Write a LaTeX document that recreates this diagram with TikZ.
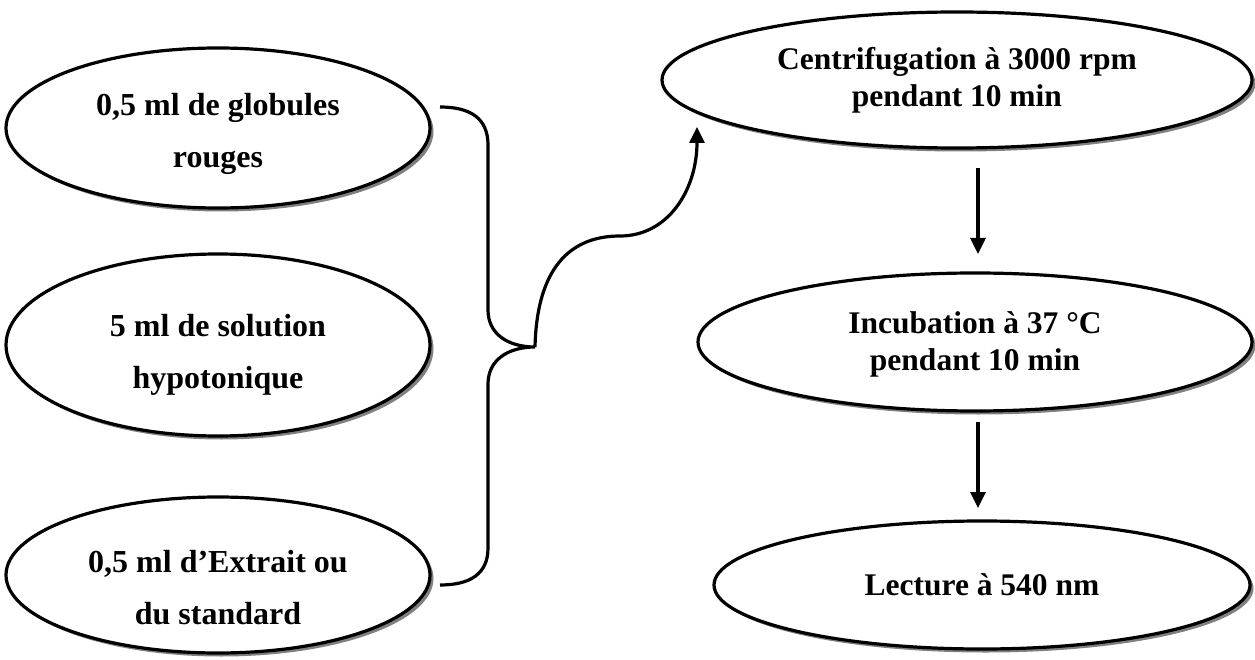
\documentclass[tikz,border=0pt]{standalone}
\usepackage{fontspec}
\setmainfont{Liberation Serif}
\usetikzlibrary{shapes.geometric,shadows,arrows.meta}
\begin{document}
\begin{tikzpicture}[x=1pt,y=-1pt,
  oval/.style={ellipse, draw=black, line width=3.2pt, fill=white, inner sep=0pt,
    drop shadow={shadow xshift=3.5pt, shadow yshift=-3.5pt, fill=black!50, opacity=1}},
  lefttext/.style={align=center, inner sep=0pt, font=\bfseries\fontsize{32}{52}\selectfont},
  righttext/.style={align=center, inner sep=0pt, font=\bfseries\fontsize{31.5}{37}\selectfont},
  conn/.style={line width=3.2pt, draw=black},
  arr/.style={conn, -{Triangle[length=16pt,width=15pt]}}]
\useasboundingbox (0,0) rectangle (1255,660);
% left column
\node[oval, minimum width=424pt, minimum height=160pt] (e1) at (218,128) {};
\node[lefttext] (e1t) at (218,134) {0,5 ml de globules\\rouges};
\node[oval, minimum width=424pt, minimum height=182pt] (e2) at (218,345) {};
\node[lefttext] (e2t) at (218,355) {5 ml de solution\\hypotonique};
\node[oval, minimum width=424pt, minimum height=156pt] (e3) at (218,575) {};
\node[lefttext] (e3t) at (218,588) {0,5 ml d’Extrait ou\\du standard};
% right column
\node[oval, minimum width=590pt, minimum height=136pt] (c1) at (957,80) {};
\node[righttext] (c1t) at (957,80) {Centrifugation à 3000 rpm\\pendant 10 min};
\node[oval, minimum width=554pt, minimum height=138pt] (c2) at (975,342) {};
\node[righttext] (c2t) at (975,344) {Incubation à 37 °C\\pendant 10 min};
\node[oval, minimum width=536pt, minimum height=128pt] (c3) at (982,585) {};
\node[righttext] (c3t) at (982,585) {Lecture à 540 nm};
% brace
\coordinate (bt) at (440,107);
\coordinate (bb) at (440,585);
\coordinate (tip) at (535,347);
\coordinate (ct) at (697,127);
\draw[conn] (bt) .. controls (470,107) and (488,118) .. (488,145) -- (488,310)
  .. controls (488,334) and (508,347) .. (tip)
  .. controls (508,347) and (488,360) .. (488,384) -- (488,548)
  .. controls (488,574) and (470,585) .. (bb);
\draw[arr] (tip) .. controls (537,262) and (575,236) .. (620,236)
  .. controls (668,236) and (697,190) .. (ct);
% vertical arrows
\coordinate (a1s) at (978,168);
\coordinate (a1e) at (978,254);
\coordinate (a2s) at (978,422);
\coordinate (a2e) at (978,508);
\draw[arr] (a1s) -- (a1e);
\draw[arr] (a2s) -- (a2e);
\end{tikzpicture}
\end{document}
